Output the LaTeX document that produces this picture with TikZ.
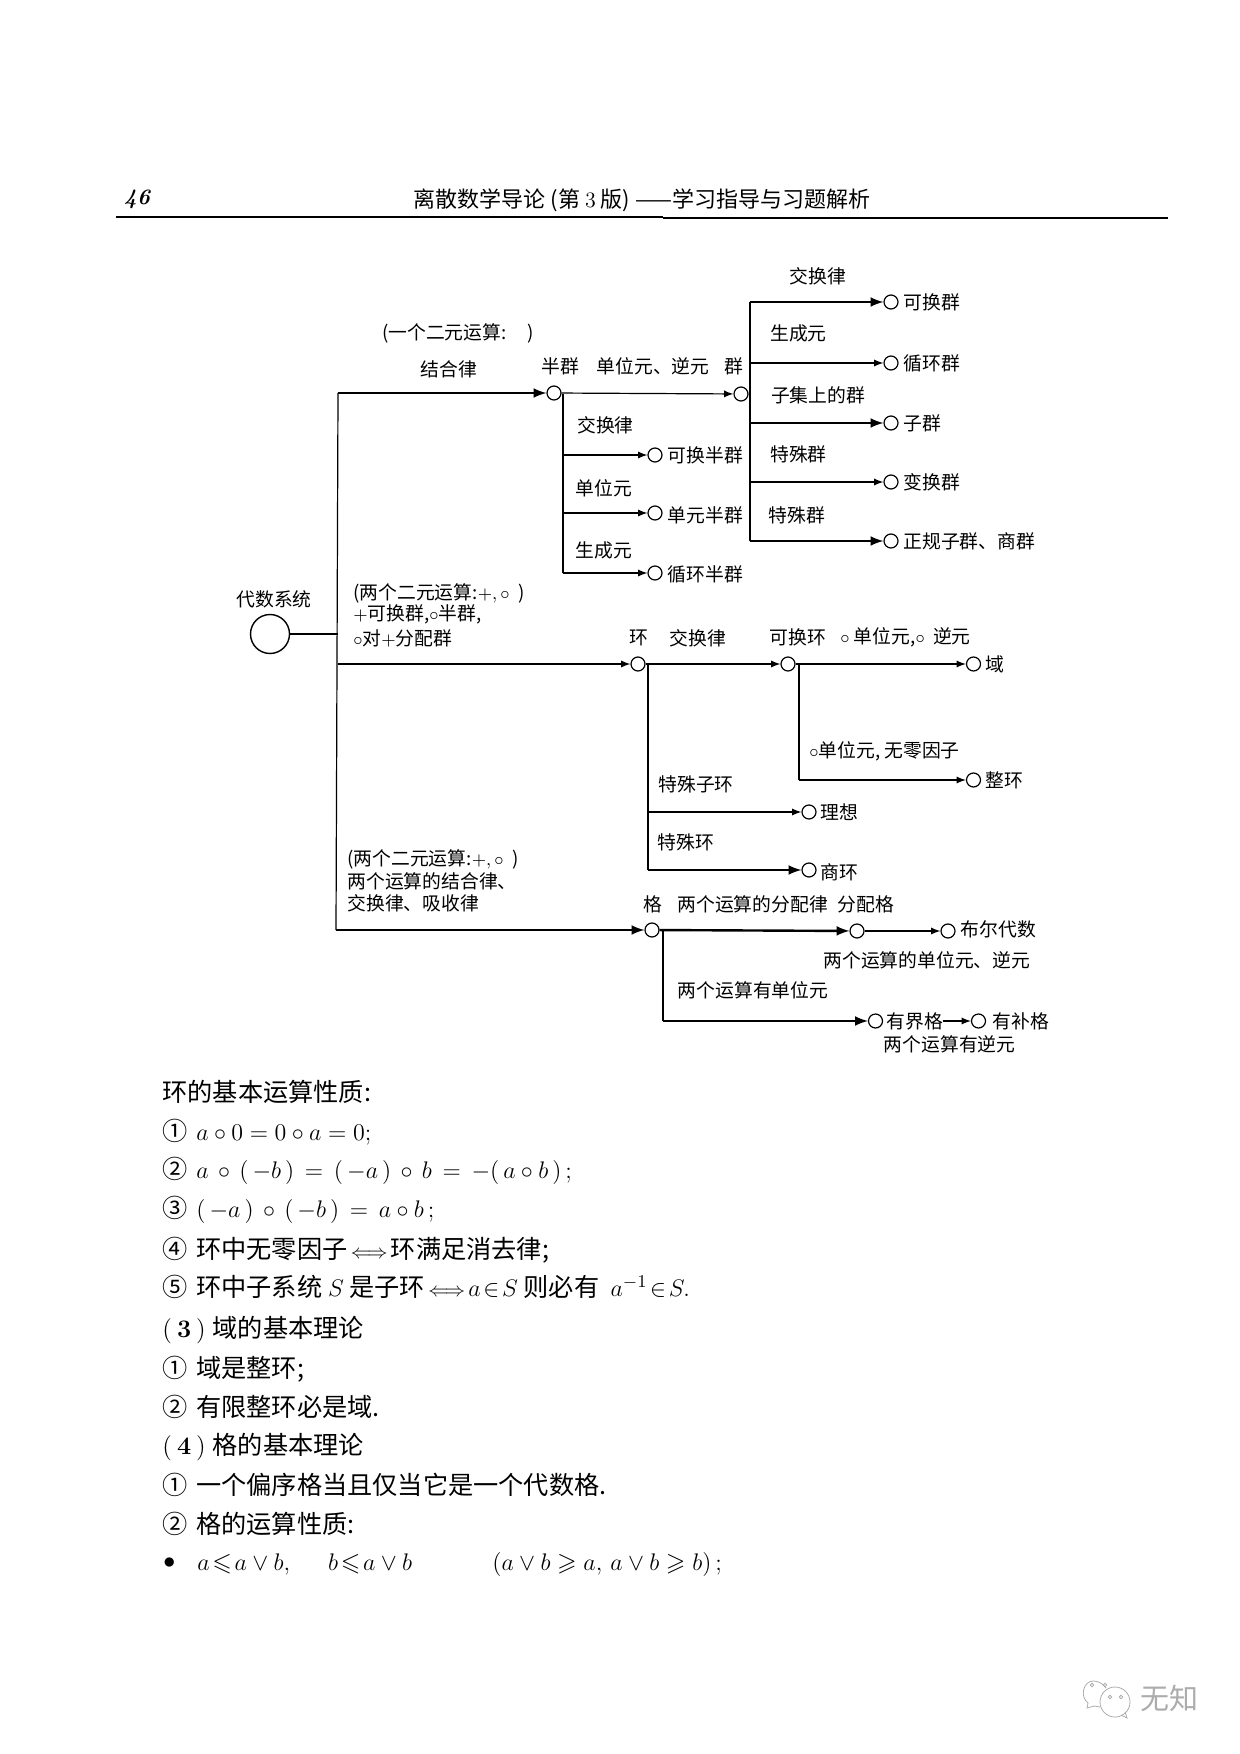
\documentclass[tikz,border=0pt]{standalone}
\usepackage{fontspec}
\usepackage{amssymb}
\newfontfamily\cjk{Noto Sans CJK SC}
\begin{document}
\begin{tikzpicture}[x=0.5pt,y=-0.5pt]
	% Styles
	\tikzstyle{trait}=[-,line width=0.6pt]
	\tikzstyle{traitmoyen}=[-,line width=0.9pt]
	\tikzstyle{traitgras}=[-,line width=1.2pt]
	\tikzstyle{lien}=[->,>=latex,line width=0.6pt]
	\tikzstyle{liengras}=[->,>=latex,line width=1.2pt]
	\tikzstyle{sommet}=[circle,draw,line width=0.6pt,inner sep=0pt,minimum size=7pt]
	\tikzstyle{libelle}=[inner sep=0pt,font=\cjk\fontsize{9.4}{11}\selectfont]
	\tikzstyle{libg}=[libelle,anchor=west]
	\tikzstyle{entete}=[inner sep=0pt,font=\cjk\fontsize{11}{13}\selectfont]
	\tikzstyle{ligne}=[inner sep=0pt,anchor=west,font=\cjk\fontsize{12.6}{14}\selectfont]
	\tikzstyle{marque}=[inner sep=0pt,text=gray!65,font=\cjk\fontsize{14.5}{16}\selectfont]
	\useasboundingbox (0,0) rectangle (1240,1754);
	% Dimensions
	\def\MargeTexte{162}
	\def\ColSg{667.5}
	\def\ColGr{903}
	\def\Esp{\hspace{4.4pt}}
	\def\Equiv{{\fontsize{10}{12}\selectfont\,$\Longleftrightarrow$\,}}
	% Entete
	\node[entete] (Num) at (137,199) {\rmfamily\bfseries\itshape 46};
	\node[entete] (Titre) at (642,200) {离散数学导论~(第~\textrm{3}~版)~——学习指导与习题解析};
	\draw[trait] (116,217) -- (663,217);
	\draw[line width=1.2pt] (663,218) -- (1168,218);
	% Noeuds
	\node[circle,draw,line width=0.7pt,inner sep=0pt,minimum size=19.5pt] (Rac) at (270,634) {};
	\node[libelle] (lRac) at (274,599) {代数系统};
	\coordinate (Tr) at (338,393);
	\coordinate (Trb) at (336,930);
	\node[sommet] (Sg) at (554,393) {};
	\node[sommet] (Gr) at (741,394) {};
	\node[sommet] (SgC) at (655,455) {};
	\node[sommet] (SgU) at (655,513) {};
	\node[sommet] (SgG) at (655,573) {};
	\node[sommet] (GrC) at (891,302) {};
	\node[sommet] (GrG) at (891,363) {};
	\node[sommet] (GrS) at (891,423) {};
	\node[sommet] (GrT) at (891,482) {};
	\node[sommet] (GrN) at (891,541) {};
	\node[sommet] (An) at (638,664) {};
	\node[sommet] (AnC) at (788,664) {};
	\node[sommet] (Co) at (973.5,664) {};
	\node[sommet] (In) at (973.5,780) {};
	\node[sommet] (Id) at (809,812) {};
	\node[sommet] (Qu) at (809,870) {};
	\node[sommet] (Tl) at (652,930) {};
	\node[sommet] (TlD) at (857,931) {};
	\node[sommet] (Bo) at (948,931) {};
	\node[sommet] (TlB) at (875.5,1021) {};
	\node[sommet] (TlP) at (978.5,1021) {};
	\coordinate (jSg) at (563,394);
	\coordinate (jGr) at (750,394);
	\coordinate (jAn) at (648,664);
	\coordinate (jCo) at (799,664);
	\coordinate (jTl) at (663,931);
	% Libelles
	\node[libelle] (a1) at (458,333) {(一个二元运算:~~~~~)};
	\node[libelle] (a2) at (449,369) {结合律};
	\node[libelle] (a3) at (560,366) {半群};
	\node[libelle] (a4) at (653,366) {单位元、逆元};
	\node[libelle] (a5) at (734,366) {群};
	\node[libelle] (b1) at (605.5,425) {交换律};
	\node[libg] (b2) at (\ColSg,455) {可换半群};
	\node[libelle] (b3) at (604,488) {单位元};
	\node[libg] (b4) at (\ColSg,515) {单元半群};
	\node[libelle] (b5) at (604,550) {生成元};
	\node[libg] (b6) at (\ColSg,574) {循环半群};
	\node[libelle] (c1) at (818,276) {交换律};
	\node[libg] (c2) at (\ColGr,302) {可换群};
	\node[libelle] (c3) at (798.5,333) {生成元};
	\node[libg] (c4) at (\ColGr,363) {循环群};
	\node[libelle] (c5) at (818,395) {子集上的群};
	\node[libg] (c6) at (\ColGr,423) {子群};
	\node[libelle] (c7) at (798.5,454) {特殊群};
	\node[libg] (c8) at (\ColGr,482) {变换群};
	\node[libelle] (c9) at (797,515) {特殊群};
	\node[libg] (c10) at (\ColGr,541) {正规子群、商群};
	\node[libg] (d1) at (353,593) {(两个二元运算:$+,\circ$~~)};
	\node[libg] (d2) at (353,614) {$+$可换群,$\circ$半群,};
	\node[libg] (d3) at (353,638) {$\circ$对$+$分配群};
	\node[libelle] (e1) at (639,638) {环};
	\node[libelle] (e2) at (698,638) {交换律};
	\node[libg] (e3) at (769,637) {可换环};
	\node[libg] (e4) at (840,637) {$\circ$~单位元,$\circ$~~逆元};
	\node[libg] (e5) at (985,664) {域};
	\node[libg] (e6) at (809,751) {$\circ$单位元,~无零因子};
	\node[libg] (e7) at (985,780) {整环};
	\node[libg] (e8) at (658,784) {特殊子环};
	\node[libg] (e9) at (820,812) {理想};
	\node[libg] (e10) at (657,842) {特殊环};
	\node[libg] (e11) at (820,872) {商环};
	\node[libg] (f1) at (347,859) {(两个二元运算:$+,\circ$~~)};
	\node[libg] (f2) at (347,881) {两个运算的结合律、};
	\node[libg] (f3) at (347,903) {交换律、吸收律};
	\node[libelle] (g1) at (653,904) {格};
	\node[libg] (g2) at (677,904) {两个运算的分配律};
	\node[libg] (g3) at (837,904) {分配格};
	\node[libg] (g4) at (960.5,929) {布尔代数};
	\node[libg] (g5) at (823,960) {两个运算的单位元、逆元};
	\node[libg] (g6) at (677.5,990) {两个运算有单位元};
	\node[libg] (YBo) at (886,1021) {有界格};
	\node[libg] (g8) at (992.5,1021) {有补格};
	\node[libg] (g9) at (883.5,1044) {两个运算有逆元};
	% Arcs
	\draw[traitgras] (Rac.east) -- (Tr |- Rac);
	\draw[trait] (Tr) -- (Trb);
	\draw[liengras] (Tr) -- (Sg);
	\draw[lien] (Tr |- An) -- (An);
	\draw[liengras] (Trb) -- (Tl);
	\draw[lien] (Sg) -- (Gr);
	\draw[trait] (jSg) -- (jSg |- SgG);
	\draw[lien] (jSg |- SgC) -- (SgC);
	\draw[lien] (jSg |- SgU) -- (SgU);
	\draw[lien] (jSg |- SgG) -- (SgG);
	\draw[trait] (jGr |- GrC) -- (jGr |- GrS);
	\draw[traitmoyen] (jGr |- GrS) -- (jGr |- GrN);
	\draw[trait] (Gr) -- (jGr);
	\draw[liengras] (jGr |- GrC) -- (GrC);
	\draw[lien] (jGr |- GrG) -- (GrG);
	\draw[liengras] (jGr |- GrS) -- (GrS);
	\draw[lien] (jGr |- GrT) -- (GrT);
	\draw[liengras] (jGr |- GrN) -- (GrN);
	\draw[lien] (An) -- (AnC);
	\draw[trait] (jAn) -- (jAn |- Id);
	\draw[traitmoyen] (jAn |- Id) -- (jAn |- Qu);
	\draw[lien] (jAn |- Id) -- (Id);
	\draw[liengras] (jAn |- Qu) -- (Qu);
	\draw[lien] (AnC) -- (Co);
	\draw[trait] (jCo) -- (jCo |- In);
	\draw[lien] (jCo |- In) -- (In);
	\draw[liengras] (Tl) -- (TlD);
	\draw[lien] (TlD) -- (Bo);
	\draw[trait] (jTl) -- (jTl |- TlB);
	\draw[liengras] (jTl |- TlB) -- (TlB);
	\draw[lien] (YBo) -- (TlP);
	% Texte
	\node[ligne] (L1) at (\MargeTexte,1092) {环的基本运算性质:};
	\node[ligne] (L2) at (\MargeTexte,1132) {①\Esp{}$a\circ 0=0\circ a=0;$};
	\node[ligne] (L3) at (\MargeTexte,1171) {②\Esp{}$a\,\circ\,(\,-b\,)\,=\,(\,-a\,)\,\circ\,b\,=\,-(\,a\circ b\,)\,;$};
	\node[ligne] (L4) at (\MargeTexte,1210) {③\Esp{}$(\,-a\,)\,\circ\,(\,-b\,)\,=\,a\circ b\,;$};
	\node[ligne] (L5) at (\MargeTexte,1250) {④\Esp{}环中无零因子\Equiv{}环满足消去律;};
	\node[ligne] (L6) at (\MargeTexte,1287) {⑤\Esp{}环中子系统~$S$~是子环\Equiv{}$a\!\in\! S$~则必有~~$a^{-1}\!\in\! S.$};
	\node[ligne] (L7) at (\MargeTexte,1330) {\textrm{(\hspace{2.5pt}\textbf{3}\hspace{2.5pt})}\hspace{3.5pt}域的基本理论};
	\node[ligne] (L8) at (\MargeTexte,1369) {①\Esp{}域是整环;};
	\node[ligne] (L9) at (\MargeTexte,1407) {②\Esp{}有限整环必是域.};
	\node[ligne] (L10) at (\MargeTexte,1447) {\textrm{(\hspace{2.5pt}\textbf{4}\hspace{2.5pt})}\hspace{3.5pt}格的基本理论};
	\node[ligne] (L11) at (\MargeTexte,1485) {①\Esp{}一个偏序格当且仅当它是一个代数格.};
	\node[ligne] (L12) at (\MargeTexte,1524) {②\Esp{}格的运算性质:};
	\node[ligne] (L13a) at (163,1563) {$\bullet$};
	\node[ligne] (L13b) at (197,1564) {$a\!\leqslant\! a\vee b,\hspace{17pt}b\!\leqslant\! a\vee b$};
	\node[ligne] (L13c) at (492,1564) {$(a\vee b\geqslant a,\,a\vee b\geqslant b)\,;$};
	% Marque
	\node[marque] (Mq) at (1169,1698) {无知};
	\draw[gray!65,line width=0.4pt] (1106,1688) .. controls (1102,1682) and (1096,1681) .. (1093,1681) .. controls (1084,1681) and (1079,1696) .. (1088,1703) -- (1087,1708) -- (1094,1706) -- (1100,1707);
	\draw[gray!65,line width=0.4pt] (1115,1702) circle[radius=15];
	\draw[gray!65,line width=0.4pt] (1121,1715) -- (1127,1718) -- (1125,1712);
	\draw[gray!65,line width=0.4pt] (1092,1685) circle[radius=1.8] (1105,1685) circle[radius=1.8] (1110,1697) circle[radius=1.8] (1121,1697) circle[radius=1.8];
\end{tikzpicture}
\end{document}
